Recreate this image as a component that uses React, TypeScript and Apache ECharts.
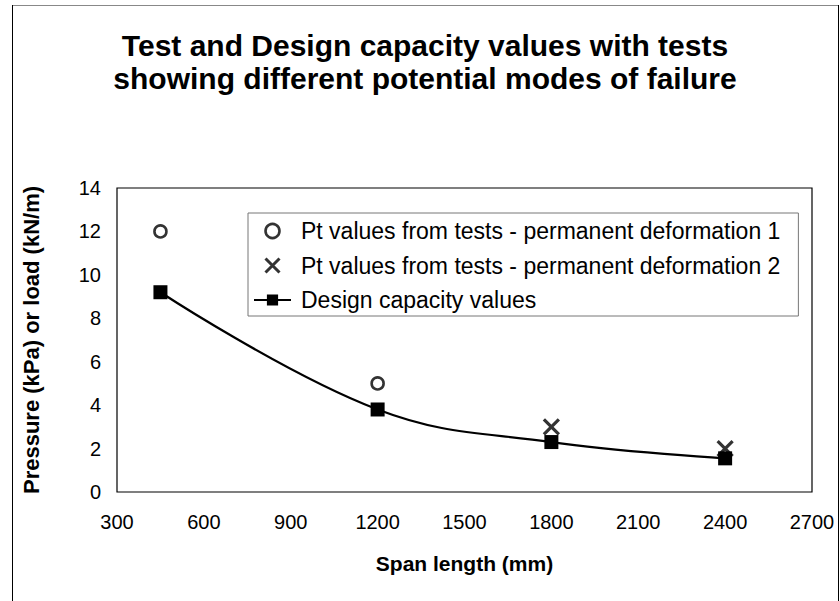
import React, { useEffect, useRef } from "react";
import * as echarts from "echarts";

const titleText = "Test and Design capacity values with tests\nshowing different potential modes of failure";
const xAxisName = "Span length (mm)";
const yAxisName = "Pressure (kPa) or load (kN/m)";

const seriesNames = [
  "Pt values from tests - permanent deformation 1",
  "Pt values from tests - permanent deformation 2",
  "Design capacity values",
];

const def1Span = [450, 1200];
const def1Value = [12, 5];

const def2Span = [1800, 2400];
const def2Value = [3, 2];

const designSpan = [450, 1200, 1800, 2400];
const designValue = [9.2, 3.8, 2.3, 1.55];

const FONT = "'Liberation Sans', Arial, sans-serif";
const CROSS = "path://M0,0 L10,10 M10,0 L0,10";

const pairs = (xs: number[], ys: number[]) => xs.map((x, i) => [x, ys[i]]);

export default function App() {
  const ref = useRef<HTMLDivElement>(null);
  useEffect(() => {
    if (!ref.current) return;
    const chart = echarts.init(ref.current, undefined, { renderer: "svg" });
    chart.setOption({
      animation: false,
      backgroundColor: "#fff",
      textStyle: { fontFamily: FONT, color: "#000" },
      graphic: [
        {
          type: "line",
          shape: { x1: 12, y1: 5.5, x2: 839, y2: 5.5 },
          style: { stroke: "#888", lineWidth: 1 },
          silent: true,
        },
        {
          type: "line",
          shape: { x1: 12.5, y1: 5, x2: 12.5, y2: 601 },
          style: { stroke: "#000", lineWidth: 1 },
          silent: true,
        },
        {
          type: "line",
          shape: { x1: 838.5, y1: 5, x2: 838.5, y2: 601 },
          style: { stroke: "#000", lineWidth: 1 },
          silent: true,
        },
        {
          type: "text",
          x: 425,
          y: 28.5,
          style: {
            text: titleText,
            align: "center",
            verticalAlign: "top",
            lineHeight: 33,
            fontSize: 30,
            fontWeight: "bold",
            fontFamily: FONT,
            fill: "#000",
          },
        },
      ],
      grid: {
        left: 117,
        right: 28,
        top: 188,
        bottom: 109,
        show: true,
        borderColor: "#000",
        borderWidth: 1.2,
        backgroundColor: "#fff",
      },
      legend: {
        show: true,
        orient: "vertical",
        left: 248,
        top: 213,
        padding: [6.5, 18, 4.5, 5],
        itemGap: 11.5,
        itemWidth: 37,
        itemHeight: 14,
        borderColor: "#777",
        borderWidth: 1,
        backgroundColor: "#fff",
        data: [
          { name: seriesNames[0], itemStyle: { borderWidth: 2.6, borderColor: "#000", color: "#fff" } },
          { name: seriesNames[1], itemStyle: { borderWidth: 3, borderColor: "#000", color: "#000" } },
          { name: seriesNames[2] },
        ],
        textStyle: { fontSize: 23, fontFamily: FONT, color: "#000", padding: [0, 0, 0, 5] },
      },
      xAxis: {
        type: "value",
        min: 300,
        max: 2700,
        interval: 300,
        name: xAxisName,
        nameLocation: "middle",
        nameGap: 61,
        nameTextStyle: { fontSize: 21, fontWeight: "bold", fontFamily: FONT, color: "#000" },
        axisLine: { show: false },
        axisTick: { show: false },
        splitLine: { show: false },
        axisLabel: {
          fontSize: 20,
          fontFamily: FONT,
          color: "#000",
          margin: 20,
          formatter: (v: number) => String(v),
        },
      },
      yAxis: {
        type: "value",
        min: 0,
        max: 14,
        interval: 2,
        name: yAxisName,
        nameLocation: "middle",
        nameGap: 75,
        nameTextStyle: { fontSize: 22, fontWeight: "bold", fontFamily: FONT, color: "#000" },
        axisLine: { show: false },
        axisTick: { show: false },
        splitLine: { show: false },
        axisLabel: {
          fontSize: 20,
          fontFamily: FONT,
          color: "#000",
          margin: 16,
          formatter: (v: number) => String(v),
        },
      },
      series: [
        {
          name: seriesNames[0],
          type: "scatter",
          data: pairs(def1Span, def1Value),
          symbol: "circle",
          symbolSize: 12,
          itemStyle: { color: "#fff", borderColor: "#000", borderWidth: 2.6 },
          z: 3,
        },
        {
          name: seriesNames[1],
          type: "scatter",
          data: pairs(def2Span, def2Value),
          symbol: CROSS,
          symbolSize: 15,
          itemStyle: { color: "#000", borderColor: "#000", borderWidth: 3.2 },
          z: 3,
        },
        {
          name: seriesNames[2],
          type: "line",
          data: pairs(designSpan, designValue),
          smooth: 0.4,
          symbol: "rect",
          symbolSize: 14,
          showSymbol: true,
          lineStyle: { color: "#000", width: 2.2 },
          itemStyle: { color: "#000" },
          z: 2,
        },
      ],
    });
    return () => chart.dispose();
  }, []);
  return (
    <div
      ref={ref}
      style={{ position: "fixed", left: 0, top: 0, width: 840, height: 601 }}
    />
  );
}
